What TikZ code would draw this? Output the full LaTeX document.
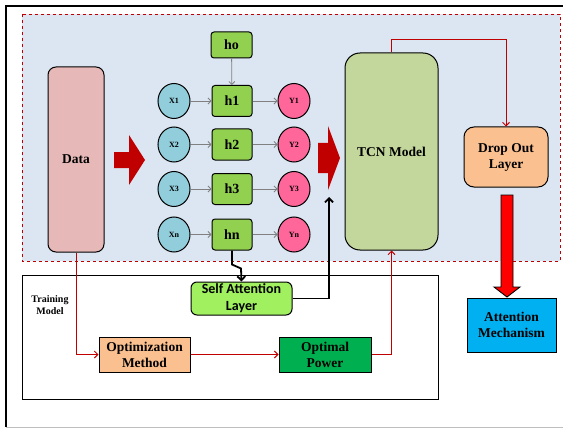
\documentclass[tikz,border=0pt]{standalone}
\usepackage{fontspec}
\setmainfont{Liberation Serif}
\newfontfamily\califont{Carlito}
\usetikzlibrary{arrows.meta, positioning, shapes.geometric}
\definecolor{bgcol}{HTML}{DCE6F2}
\definecolor{darkred}{HTML}{C00000}
\definecolor{datacol}{HTML}{E6B9B8}
\definecolor{hcol}{HTML}{92D050}
\definecolor{xcol}{HTML}{92CDDC}
\definecolor{ycol}{HTML}{FF6699}
\definecolor{tcncol}{HTML}{C3D69B}
\definecolor{dropcol}{HTML}{FAC090}
\definecolor{attcol}{HTML}{00B0F0}
\definecolor{selfcol}{HTML}{A0F060}
\definecolor{powcol}{HTML}{00B050}
\tikzset{
  box/.style={rectangle, draw, line width=1pt, align=center, inner sep=1pt, font=\bfseries\fontsize{13.5}{16}\selectfont},
  rbox/.style={box, rounded corners=#1},
  hnode/.style={rbox=3pt, fill=hcol, minimum width=40pt, minimum height=31pt, font=\bfseries\fontsize{14}{14}\selectfont},
  xnode/.style={ellipse, draw, line width=1pt, fill=xcol, minimum width=32pt, minimum height=35pt, inner sep=0pt, font=\bfseries\fontsize{8}{8}\selectfont},
  ynode/.style={xnode, fill=ycol},
  gline/.style={draw=gray, line width=0.8pt, -{Straight Barb[length=3pt, width=6pt]}},
  rline/.style={draw=darkred, line width=1pt, -{Straight Barb[length=3.5pt, width=7pt]}},
  kline/.style={draw=black, line width=1.8pt, -{Straight Barb[length=4pt, width=8pt]}},
}
\begin{document}
\begin{tikzpicture}[x=1pt, y=-1pt]
  \useasboundingbox (0,0) rectangle (563,428);
  % outer frame
  \draw[line width=1.5pt] (563,6) -- (6,6) -- (6,427);
  \draw[line width=1pt, gray!50] (6,427) -- (563,427);
  % dashed region
  \draw[dashed, draw=darkred, fill=bgcol, line width=0.9pt] (22,14) rectangle (560,261);
  % training region
  \draw[line width=1pt] (22,275) rectangle (438,399);
  \node[font=\bfseries\fontsize{10}{12}\selectfont, align=center] (train) at (50,305) {Training\\Model};

  \node[rbox=8pt, fill=datacol, minimum width=56pt, minimum height=185pt] (data) at (76,159.5) {Data};

  % recurrent part
  \node[hnode, minimum width=41pt, minimum height=26pt] (h0) at (231.5,45) {ho};
  \node[hnode] (h1) at (232,101)   {h1};
  \node[hnode] (h2) at (232,144.5) {h2};
  \node[hnode] (h3) at (232,189)   {h3};
  \node[hnode] (hn) at (232,234.5) {hn};
  \node[xnode] (x1) at (174,101)   {X1};
  \node[xnode] (x2) at (174,144.5) {X2};
  \node[xnode] (x3) at (174,189)   {X3};
  \node[xnode] (xn) at (174,234.5) {Xn};
  \node[ynode] (y1) at (294,101)   {Y1};
  \node[ynode] (y2) at (294,144.5) {Y2};
  \node[ynode] (y3) at (294,189)   {Y3};
  \node[ynode] (yn) at (294,234.5) {Yn};
  \draw[gline] (h0) -- (h1);
  \draw[gline] (x1) -- (h1);
  \draw[gline] (x2) -- (h2);
  \draw[gline] (x3) -- (h3);
  \draw[gline] (xn) -- (hn);
  \draw[gline] (h1) -- (y1);
  \draw[gline] (h2) -- (y2);
  \draw[gline] (h3) -- (y3);
  \draw[gline] (hn) -- (yn);

  \node[rbox=15pt, fill=tcncol, minimum width=93pt, minimum height=197pt] (tcn) at (391.5,151.5) {TCN Model};
  \node[rbox=10pt, fill=dropcol, minimum width=84pt, minimum height=60pt] (drop) at (506,157) {Drop Out\\Layer};
  \node[box, fill=attcol, minimum width=89pt, minimum height=54pt] (att) at (511.5,325) {Attention\\Mechanism};

  \node[rbox=6pt, fill=selfcol, minimum width=101pt, minimum height=33pt,
        font=\califont\bfseries\fontsize{14}{17}\selectfont] (self) at (241.5,298.5) {Self Attention\\Layer};
  \node[box, fill=dropcol, minimum width=91pt, minimum height=35pt] (opt) at (144.5,354.5) {Optimization\\Method};
  \node[box, fill=powcol, minimum width=92pt, minimum height=35pt] (pow) at (325,354.5) {Optimal\\Power};

  % block arrows
  \fill[darkred] (114,152) -- (129,152) -- (129,135) -- (145,160) -- (129,185) -- (129,168) -- (114,168) -- cycle;
  \fill[darkred] (318,143) -- (328,143) -- (328,126) -- (340,158) -- (328,190) -- (328,173) -- (318,173) -- cycle;
  \filldraw[fill=red, draw=black, line width=0.9pt] (501,195) -- (513,195) -- (513,287) -- (520,287)
    -- (507,297) -- (494,287) -- (501,287) -- cycle;

  % connectors
  \draw[rline] (tcn.north) -- ++(0,-13) -| (drop.north);
  \draw[rline] (data.south) |- (opt.west);
  \draw[rline] (opt) -- (pow);
  \draw[rline] (pow.east) -| (tcn.south);
  \draw[kline] (hn.south) -- ++(0,14) -- ++(9,4) -- (self.north);
  \coordinate (tip) at (329,197);
  \draw[kline] (self.east) -| (tip);
\end{tikzpicture}
\end{document}
